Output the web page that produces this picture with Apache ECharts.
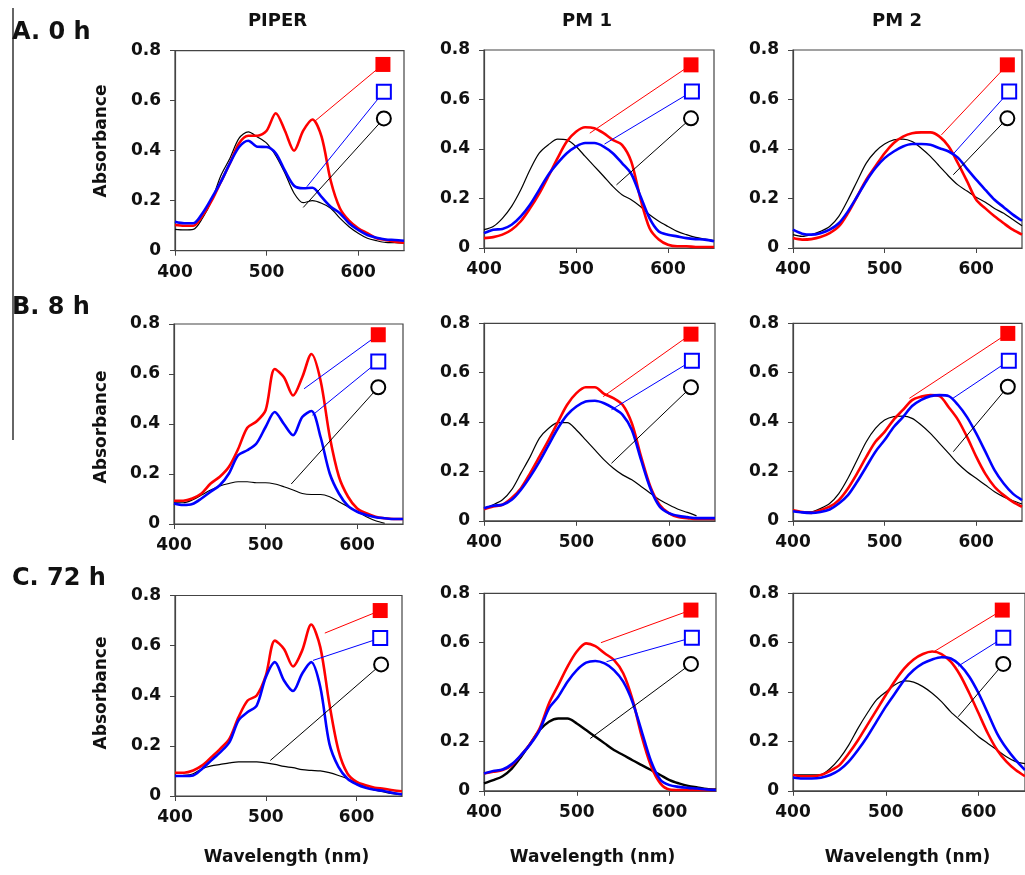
<!DOCTYPE html>
<html>
<head>
<meta charset="utf-8">
<script src="https://cdn.jsdelivr.net/npm/echarts@6/dist/echarts.min.js"></script>
<style>
html,body{margin:0;padding:0;background:#fff}
#chart{width:1025px;height:875px}
</style>
</head>
<body>
<div id="chart"></div>
<script>
// wavelength grid (nm)
var wl = [400,410,420,430,440,450,460,470,480,490,500,510,520,530,540,550,560,570,580,590,600,610,620,630,640,650];
var xTicks = [400,500,600];
var yTicks = [0,0.2,0.4,0.6,0.8];
var colTitles = ['PIPER','PM 1','PM 2'];
var rowTitles = ['A. 0 h','B. 8 h','C. 72 h'];

// A. 0 h
var aPiperRed   = [0.103,0.10,0.10,0.14,0.20,0.275,0.35,0.43,0.46,0.46,0.48,0.55,0.48,0.40,0.48,0.525,0.456,0.28,0.17,0.12,0.09,0.07,0.05,0.043,0.036,0.032];
var aPiperBlue  = [0.116,0.11,0.11,0.15,0.21,0.275,0.35,0.415,0.44,0.416,0.415,0.39,0.32,0.26,0.25,0.252,0.215,0.176,0.15,0.11,0.083,0.063,0.052,0.045,0.043,0.04];
var aPiperBlack = [0.085,0.083,0.085,0.13,0.20,0.30,0.37,0.45,0.475,0.455,0.43,0.38,0.31,0.23,0.192,0.2,0.19,0.17,0.13,0.096,0.07,0.05,0.04,0.033,0.032,0.03];
var aPm1Red     = [0.04,0.044,0.054,0.074,0.108,0.16,0.22,0.29,0.363,0.43,0.47,0.488,0.484,0.464,0.437,0.417,0.35,0.20,0.08,0.034,0.013,0.007,0.007,0.004,0.004,0.004];
var aPm1Blue    = [0.06,0.074,0.077,0.094,0.128,0.175,0.235,0.296,0.343,0.383,0.41,0.424,0.424,0.41,0.383,0.343,0.30,0.21,0.12,0.067,0.054,0.047,0.04,0.036,0.034,0.027];
var aPm1Black   = [0.074,0.087,0.12,0.168,0.235,0.316,0.383,0.417,0.44,0.437,0.41,0.37,0.33,0.29,0.249,0.215,0.195,0.168,0.134,0.108,0.087,0.067,0.054,0.043,0.036,0.03];
var aPm2Red     = [0.04,0.034,0.036,0.044,0.06,0.087,0.141,0.208,0.276,0.33,0.383,0.424,0.45,0.464,0.467,0.467,0.45,0.41,0.343,0.27,0.195,0.16,0.128,0.10,0.074,0.054];
var aPm2Blue    = [0.074,0.058,0.054,0.06,0.074,0.1,0.148,0.208,0.27,0.323,0.363,0.39,0.41,0.42,0.42,0.417,0.403,0.39,0.365,0.32,0.276,0.235,0.195,0.165,0.135,0.11];
var aPm2Black   = [0.054,0.047,0.054,0.067,0.087,0.128,0.195,0.27,0.343,0.39,0.42,0.437,0.44,0.43,0.403,0.37,0.33,0.29,0.255,0.23,0.205,0.185,0.16,0.14,0.115,0.09];

// B. 8 h
var bPiperRed   = [0.093,0.093,0.102,0.122,0.162,0.189,0.229,0.30,0.385,0.41,0.455,0.62,0.587,0.514,0.587,0.68,0.574,0.35,0.19,0.109,0.062,0.043,0.029,0.023,0.02,0.02];
var bPiperBlue  = [0.082,0.076,0.08,0.102,0.129,0.155,0.202,0.275,0.295,0.322,0.388,0.448,0.40,0.355,0.428,0.452,0.348,0.202,0.122,0.072,0.049,0.036,0.027,0.023,0.02,0.02];
var bPiperBlack = [0.085,0.085,0.096,0.116,0.136,0.152,0.162,0.169,0.169,0.165,0.165,0.16,0.149,0.136,0.122,0.118,0.118,0.109,0.089,0.069,0.049,0.029,0.013,0.003,null,null];
var bPm1Red     = [0.047,0.058,0.065,0.092,0.132,0.193,0.26,0.328,0.40,0.47,0.517,0.541,0.541,0.514,0.497,0.47,0.395,0.26,0.139,0.065,0.031,0.015,0.011,0.007,0.007,0.007];
var bPm1Blue    = [0.051,0.061,0.065,0.085,0.126,0.179,0.24,0.308,0.375,0.429,0.463,0.483,0.486,0.476,0.456,0.429,0.368,0.247,0.132,0.058,0.031,0.02,0.015,0.011,0.011,0.011];
var bPm1Black   = [0.051,0.065,0.085,0.126,0.193,0.26,0.335,0.375,0.398,0.398,0.368,0.328,0.287,0.247,0.213,0.186,0.166,0.139,0.112,0.085,0.065,0.047,0.034,0.02,null,null];
var bPm2Red     = [0.043,0.036,0.032,0.043,0.057,0.084,0.131,0.192,0.259,0.32,0.36,0.41,0.449,0.489,0.503,0.509,0.505,0.46,0.41,0.34,0.26,0.19,0.138,0.104,0.077,0.057];
var bPm2Blue    = [0.039,0.034,0.032,0.036,0.046,0.07,0.104,0.158,0.219,0.28,0.327,0.38,0.42,0.465,0.49,0.505,0.509,0.505,0.47,0.42,0.354,0.28,0.205,0.151,0.11,0.084];
var bPm2Black   = [0.043,0.036,0.036,0.05,0.07,0.11,0.172,0.246,0.32,0.374,0.408,0.422,0.424,0.415,0.388,0.354,0.314,0.273,0.232,0.199,0.172,0.145,0.118,0.097,0.081,0.068];

// C. 72 h
var cPiperRed   = [0.093,0.093,0.102,0.122,0.155,0.189,0.229,0.315,0.381,0.401,0.48,0.62,0.587,0.517,0.58,0.684,0.594,0.368,0.182,0.089,0.056,0.043,0.033,0.029,0.023,0.019];
var cPiperBlue  = [0.08,0.08,0.082,0.109,0.142,0.175,0.215,0.302,0.335,0.361,0.474,0.534,0.461,0.419,0.488,0.534,0.435,0.209,0.116,0.069,0.047,0.033,0.025,0.02,0.012,0.007];
var cPiperBlack = [0.08,0.082,0.089,0.109,0.12,0.126,0.132,0.136,0.136,0.136,0.132,0.126,0.118,0.113,0.105,0.102,0.1,0.093,0.082,0.069,0.052,0.036,0.023,0.016,0.009,0.005];
var cPm1Red     = [0.07,0.077,0.084,0.104,0.145,0.192,0.253,0.354,0.428,0.503,0.564,0.597,0.586,0.557,0.53,0.476,0.37,0.22,0.10,0.03,0.005,0.003,0.003,0.003,0.003,0.003];
var cPm1Blue    = [0.07,0.08,0.086,0.108,0.145,0.189,0.246,0.334,0.381,0.442,0.489,0.519,0.526,0.516,0.489,0.442,0.36,0.24,0.12,0.045,0.023,0.016,0.012,0.009,0.005,0.003];
var cPm1Black   = [0.03,0.043,0.059,0.09,0.138,0.192,0.246,0.28,0.293,0.293,0.273,0.246,0.219,0.192,0.165,0.145,0.124,0.104,0.084,0.064,0.043,0.03,0.02,0.014,0.008,0.005];
var cPm2Red     = [0.064,0.059,0.059,0.064,0.081,0.104,0.151,0.205,0.266,0.327,0.388,0.446,0.496,0.532,0.554,0.564,0.554,0.523,0.469,0.395,0.314,0.232,0.165,0.118,0.084,0.059];
var cPm2Blue    = [0.054,0.05,0.05,0.053,0.064,0.084,0.118,0.165,0.219,0.28,0.341,0.395,0.449,0.489,0.516,0.532,0.541,0.536,0.509,0.462,0.395,0.314,0.232,0.172,0.124,0.084];
var cPm2Black   = [0.065,0.065,0.065,0.066,0.09,0.13,0.185,0.253,0.314,0.368,0.40,0.43,0.445,0.44,0.422,0.395,0.361,0.32,0.286,0.253,0.219,0.192,0.165,0.138,0.118,0.11];

// callouts: [curve x, curve y, marker x, marker y] for red, blue, black
var aPiperTips = [[552,0.516,627,0.745],[544,0.256,628,0.636],[540,0.173,628,0.529]];
var aPm1Tips   = [[515,0.464,625,0.74],[531,0.42,626,0.632],[544,0.255,625,0.524]];
var aPm2Tips   = [[562,0.457,634,0.74],[574,0.376,636,0.632],[575,0.296,634,0.524]];
var bPiperTips = [[542,0.541,623,0.757],[551,0.435,623,0.65],[528,0.16,623,0.547]];
var bPm1Tips   = [[529,0.503,624,0.756],[538,0.45,625,0.648],[538,0.233,624,0.541]];
var bPm2Tips   = [[527,0.496,634.5,0.759],[574.5,0.496,635.6,0.648],[575,0.28,634.5,0.543]];
var cPiperTips = [[565,0.65,626,0.74],[552,0.541,626,0.63],[505,0.142,627,0.525]];
var cPm1Tips   = [[526,0.6,623,0.732],[532,0.523,624,0.62],[514.5,0.212,623,0.514]];
var cPm2Tips   = [[552,0.564,625.5,0.732],[578,0.505,626.6,0.62],[578,0.3,626.6,0.514]];

var panels = [
  {red:aPiperRed, blue:aPiperBlue, black:aPiperBlack, tips:aPiperTips, box:[175,50.7,229,200]},
  {red:aPm1Red,   blue:aPm1Blue,   black:aPm1Black,   tips:aPm1Tips,   box:[484,50,230,198]},
  {red:aPm2Red,   blue:aPm2Blue,   black:aPm2Black,   tips:aPm2Tips,   box:[793,50,229,198]},
  {red:bPiperRed, blue:bPiperBlue, black:bPiperBlack, tips:bPiperTips, box:[174,324,229,200], redTipColor:'#0000ff'},
  {red:bPm1Red,   blue:bPm1Blue,   black:bPm1Black,   tips:bPm1Tips,   box:[484,323.3,231,197.5]},
  {red:bPm2Red,   blue:bPm2Blue,   black:bPm2Black,   tips:bPm2Tips,   box:[793,323.3,229,197.5]},
  {red:cPiperRed, blue:cPiperBlue, black:cPiperBlack, tips:cPiperTips, box:[175,595.5,227,200.5]},
  {red:cPm1Red,   blue:cPm1Blue,   black:cPm1Black,   tips:cPm1Tips,   box:[484,593.3,232,197.5], blackWidth:2.4},
  {red:cPm2Red,   blue:cPm2Blue,   black:cPm2Black,   tips:cPm2Tips,   box:[793,593.3,237,197.5]}
];

var FONT = '"DejaVu Sans", sans-serif';
var grids = [], xAxes = [], yAxes = [], series = [];

function pairs(vals) {
  return wl.map(function (x, k) { return [x, vals[k]]; });
}

panels.forEach(function (p, i) {
  grids.push({left:p.box[0], top:p.box[1], width:p.box[2], height:p.box[3],
    show:true, borderColor:'#444', borderWidth:1.2, backgroundColor:'#fff'});
  xAxes.push({type:'value', gridIndex:i, min:xTicks[0], max:650, interval:xTicks[1]-xTicks[0],
    axisLine:{onZero:false, lineStyle:{color:'#444', width:1.2}},
    axisTick:{length:5, lineStyle:{color:'#444'}},
    axisLabel:{color:'#111', fontFamily:FONT, fontWeight:'bold', fontSize:17, margin:13,
      showMaxLabel:false, formatter:function (v) { return xTicks.indexOf(v) >= 0 ? String(v) : ''; }},
    splitLine:{show:false}});
  yAxes.push({type:'value', gridIndex:i, min:yTicks[0], max:yTicks[yTicks.length-1], interval:0.2,
    axisLine:{show:true, lineStyle:{color:'#444', width:1.2}},
    axisTick:{show:true, length:5, lineStyle:{color:'#444'}},
    axisLabel:{color:'#111', fontFamily:FONT, fontWeight:'bold', fontSize:17, margin:14,
      formatter:function (v) { return v === 0 ? '0' : v.toFixed(1); }},
    splitLine:{show:false}});

  var curves = [
    {d:p.black, c:'#000000', w:p.blackWidth || 1.2},
    {d:p.red,   c:'#ff0000', w:2.6},
    {d:p.blue,  c:'#0000ff', w:2.6}
  ];
  curves.forEach(function (cv, k) {
    series.push({type:'line', xAxisIndex:i, yAxisIndex:i, data:pairs(cv.d), showSymbol:false,
      smooth:0.3, connectNulls:false, lineStyle:{color:cv.c, width:cv.w}, z:2 + k, silent:true});
  });

  var tipColors = [p.redTipColor || '#ff0000', '#0000ff', '#000000'];
  p.tips.forEach(function (t, k) {
    series.push({type:'line', xAxisIndex:i, yAxisIndex:i, data:[[t[0], t[1]], [t[2], t[3]]],
      showSymbol:false, lineStyle:{color:tipColors[k], width:1}, z:6, silent:true});
  });

  series.push({type:'scatter', xAxisIndex:i, yAxisIndex:i, z:8, silent:true,
    itemStyle:{opacity:1},
    data:[
      {value:[p.tips[0][2], p.tips[0][3]], symbol:'rect', symbolSize:15,
        itemStyle:{color:'#ff0000', borderWidth:0, opacity:1}},
      {value:[p.tips[1][2], p.tips[1][3]], symbol:'rect', symbolSize:14,
        itemStyle:{color:'#ffffff', borderColor:'#0000ff', borderWidth:2, opacity:1}},
      {value:[p.tips[2][2], p.tips[2][3]], symbol:'circle', symbolSize:14,
        itemStyle:{color:'#ffffff', borderColor:'#000000', borderWidth:2, opacity:1}}
    ]});
});

function label(text, x, y, size, rot) {
  return {type:'text', x:x, y:y, rotation:rot || 0, z:20,
    style:{text:text, x:0, y:0, fill:'#111', font:'bold ' + size + 'px ' + FONT,
      align:'center', verticalAlign:'middle', textAlign:'center', textVerticalAlign:'middle'}};
}

var graphics = [
  {type:'line', shape:{x1:13, y1:8, x2:13, y2:440}, style:{stroke:'#333', lineWidth:1.5}, z:1}
];
var colCenters = [277.5, 587, 897];
var rowCenters = [33, 308, 579];
colTitles.forEach(function (t, k) { graphics.push(label(t, colCenters[k], 21, 18)); });
rowTitles.forEach(function (t, k) {
  graphics.push({type:'text', x:12, y:rowCenters[k], z:20,
    style:{text:t, x:0, y:0, fill:'#111', font:'bold 24px ' + FONT,
      align:'left', verticalAlign:'middle', textAlign:'left', textVerticalAlign:'middle'}});
});
[141, 427, 693].forEach(function (y) { graphics.push(label('Absorbance', 101.5, y, 17, Math.PI / 2)); });
[286.5, 592.5, 907.5].forEach(function (x) { graphics.push(label('Wavelength (nm)', x, 858, 17)); });

var chart = echarts.init(document.getElementById('chart'));
chart.setOption({
  animation:false,
  backgroundColor:'#fff',
  grid:grids,
  xAxis:xAxes,
  yAxis:yAxes,
  series:series,
  graphic:graphics
});
</script>
</body>
</html>
